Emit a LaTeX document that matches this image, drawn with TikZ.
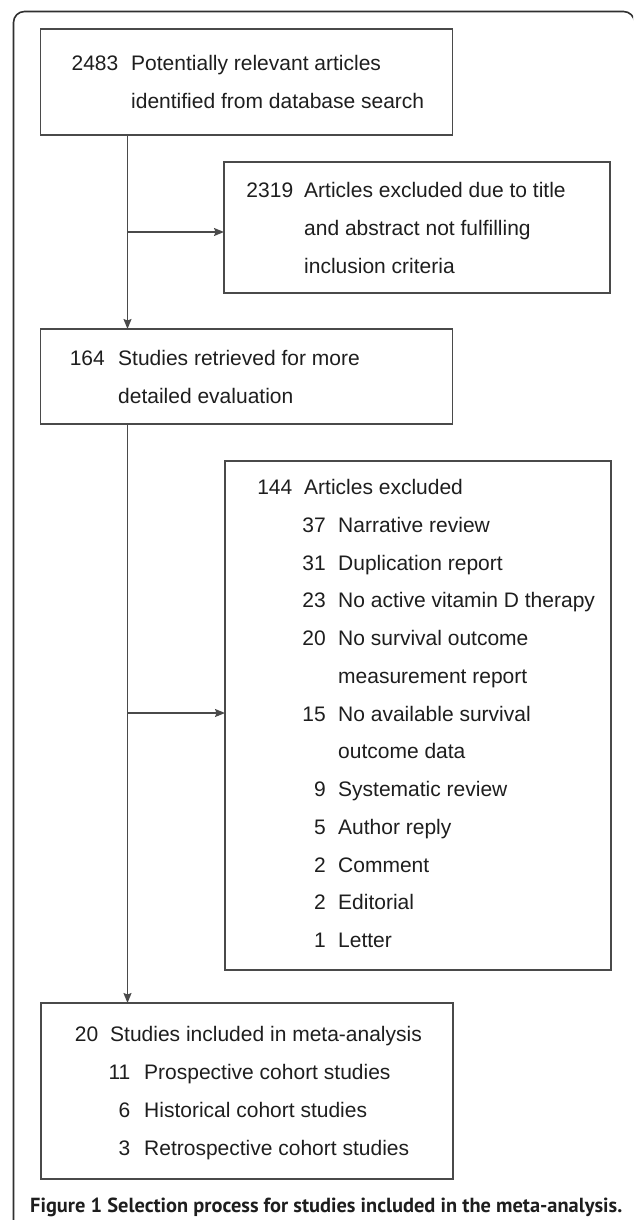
\documentclass[tikz,border=0pt]{standalone}
\usepackage{fontspec}
\usepackage{graphicx}
\setmainfont{Liberation Sans}
\newfontfamily\capfont{PT Sans}
\usetikzlibrary{arrows.meta}
\definecolor{linecol}{HTML}{4A4A4A}
\definecolor{framecol}{HTML}{303030}
\definecolor{txtcol}{HTML}{1E1E1E}
\begin{document}
\begin{tikzpicture}[x=1pt,y=-1pt,
  box/.style={draw=linecol, line width=1.3pt, inner sep=0pt, outer sep=0pt, anchor=north west},
  conn/.style={draw=linecol, line width=1.4pt, -{Stealth[length=10pt,width=8pt,inset=1.5pt]}},
  num/.style={font=\fontsize{21}{25}\selectfont, text=txtcol, inner sep=0pt, anchor=base east},
  lab/.style={font=\fontsize{21}{25}\selectfont, text=txtcol, inner sep=0pt, anchor=base west},
  ]
\clip (0,0) rectangle (633,1220);
\fill[white] (0,0) rectangle (633,1220);
% outer frame
\draw[framecol, line width=1.6pt, rounded corners=11pt] (13.5,1240) -- (13.5,11.5) -- (634.5,11.5) -- (634.5,1240);

% boxes
\node[box, minimum width=412pt, minimum height=106pt] (b1) at (40.5,29) {};
\node[box, minimum width=386pt, minimum height=131pt] (b2) at (224,162) {};
\node[box, minimum width=412pt, minimum height=95pt] (b3) at (40.5,329) {};
\node[box, minimum width=386pt, minimum height=509pt] (b4) at (225,461) {};
\node[box, minimum width=412pt, minimum height=176pt] (b5) at (41,1003) {};

% box 1 text
\node[num] (n1) at (118.5,71) {2483};
\node[lab] (t1a) at (131,71) {Potentially relevant articles};
\node[lab] (t1b) at (131,108.75) {identified from database search};

% box 2 text
\node[num] (n2) at (293.4,197.5) {2319};
\node[lab] (t2a) at (304,197.5) {Articles excluded due to title};
\node[lab] (t2b) at (304,235.25) {and abstract not fulfilling};
\node[lab] (t2c) at (304,273) {inclusion criteria};

% box 3 text
\node[num] (n3) at (105,365.3) {164};
\node[lab] (t3a) at (118,365.3) {Studies retrieved for more};
\node[lab] (t3b) at (118,403) {detailed evaluation};

% box 4 text
\node[num] (n4) at (292.5,494.5) {144};
\node[lab] (t4) at (304,494.5) {Articles excluded};
\foreach \k/\n/\t in {1/37/Narrative review, 2/31/Duplication report,
  3/23/No active vitamin D therapy, 4/20/No survival outcome,
  6/15/No available survival, 8/9/Systematic review, 9/5/Author reply,
  10/2/Comment, 11/2/Editorial, 12/1/Letter}{
  \node[num] (n4-\k) at (326,{494.5+37.75*\k}) {\n};
  \node[lab] (t4-\k) at (338,{494.5+37.75*\k}) {\t};
}
\foreach \k/\t in {5/measurement report, 7/outcome data}{
  \node[lab] (t4-\k) at (338,{494.5+37.75*\k}) {\t};
}

% box 5 text
\node[num] (n5) at (98.5,1041.5) {20};
\node[lab] (t5) at (110,1041.5) {Studies included in meta-analysis};
\foreach \k/\n/\t in {1/11/Prospective cohort studies, 2/6/Historical cohort studies,
  3/3/Retrospective cohort studies}{
  \node[num] (n5-\k) at (130.5,{1041.5+37.9*\k}) {\n};
  \node[lab] (t5-\k) at (144,{1041.5+37.9*\k}) {\t};
}

% connectors
\coordinate (vx) at (127.5,0);
\coordinate (a2) at (127.5,232);
\coordinate (a4) at (127.5,713);
\draw[conn] (b1.south -| vx) -- (b3.north -| vx);
\draw[conn] (a2) -- (a2 -| b2.west);
\draw[conn] (b3.south -| vx) -- (b5.north -| vx);
\draw[conn] (a4) -- (a4 -| b4.west);

% caption
\node[anchor=base west, inner sep=0pt, text=txtcol] (cap) at (30,1212.5)
  {\resizebox{592pt}{!}{\capfont\bfseries Figure 1 Selection process for studies included in the meta-analysis.}};
\end{tikzpicture}
\end{document}
